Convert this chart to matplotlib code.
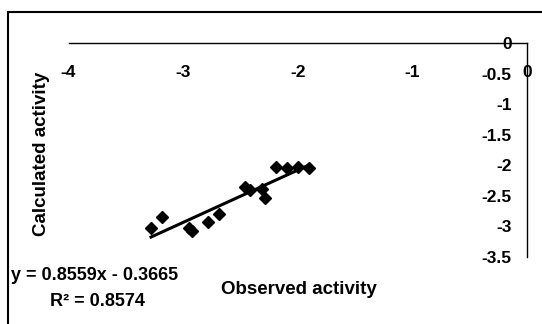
import numpy as np
import matplotlib
matplotlib.use('Agg')
import matplotlib.pyplot as plt
from matplotlib.patches import Rectangle
from matplotlib.ticker import FuncFormatter

plt.rcParams['font.family'] = ['Liberation Sans', 'DejaVu Sans']
plt.rcParams['font.weight'] = 'bold'
plt.rcParams['axes.unicode_minus'] = False

# observed vs calculated activity
observed = [-3.28, -3.18, -2.95, -2.92, -2.78, -2.69, -2.46, -2.42,
            -2.31, -2.29, -2.19, -2.09, -2.00, -1.90]
calculated = [-3.02, -2.85, -3.02, -3.07, -2.92, -2.80, -2.36, -2.41,
              -2.39, -2.54, -2.02, -2.05, -2.02, -2.05]

# trend line from the chart
slope = 0.8559
intercept = -0.3665
r2 = 0.8574

W, H = 542, 324
fig = plt.figure(figsize=(W / 100, H / 100), dpi=100)
ax = fig.add_axes([68.5 / W, 1 - 257 / H, (527 - 68.5) / W, (257 - 43) / H])

ax.plot(observed, calculated, 'D', color='black', markersize=6.5)
xs = np.array([min(observed), max(observed)])
ax.plot(xs, slope * xs + intercept, color='black', linewidth=2.2)

ax.set_xlim(-4, 0)
ax.set_ylim(-3.5, 0)
ax.set_xticks(np.arange(-4, 0.5, 1))
ax.set_yticks(np.arange(-3.5, 0.25, 0.5))
fmt = FuncFormatter(lambda v, p: '%g' % v)
ax.xaxis.set_major_formatter(fmt)
ax.yaxis.set_major_formatter(fmt)

# Excel style: axes cross at zero
ax.spines['bottom'].set_position(('data', 0))
ax.spines['left'].set_position(('data', 0))
ax.spines['top'].set_visible(False)
ax.spines['right'].set_visible(False)
ax.spines['bottom'].set_linewidth(1.0)
ax.spines['left'].set_linewidth(1.0)
ax.tick_params(axis='x', length=0, pad=16, labelsize=12.5)
ax.tick_params(axis='y', length=0, pad=11, labelsize=12.5)
for lbl in ax.get_xticklabels() + ax.get_yticklabels():
    lbl.set_fontweight('bold')

fig.text(41.5 / W, 1 - 154 / H, 'Calculated activity', rotation=90,
         ha='center', va='center', fontsize=13.5, fontweight='bold')
fig.text(299 / W, 1 - 290 / H, 'Observed activity',
         ha='center', va='center', fontsize=13.5, fontweight='bold')
fig.text(11 / W, 1 - 275 / H, 'y = %.4fx - %.4f' % (slope, -intercept),
         ha='left', va='center', fontsize=13, fontweight='bold')
fig.text(97.5 / W, 1 - 301 / H, 'R² = %.4f' % r2,
         ha='center', va='center', fontsize=13, fontweight='bold')

# outer chart border
fig.patches.append(Rectangle((8 / W, -0.1), 1.2, 1 - 12 / H + 0.1,
                             transform=fig.transFigure, fill=False,
                             edgecolor='black', linewidth=1.5))

fig.savefig('out.png', dpi=100)
